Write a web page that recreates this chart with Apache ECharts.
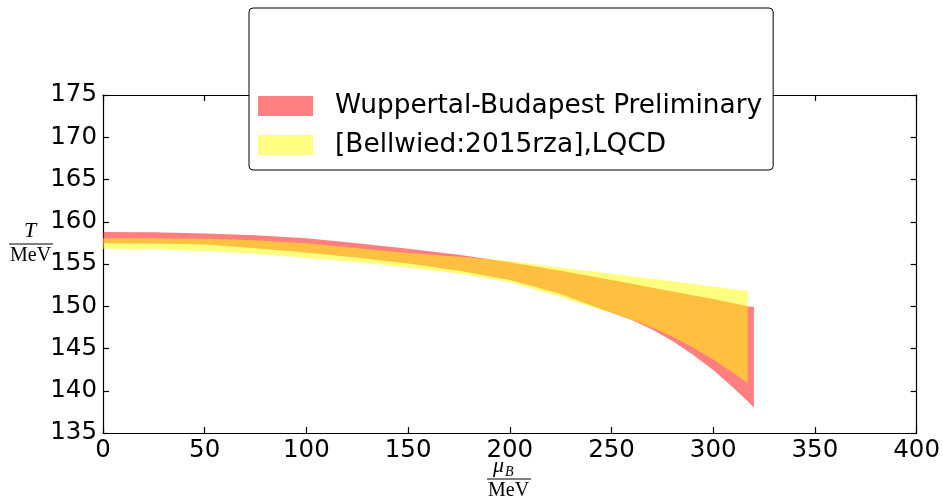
<!DOCTYPE html>
<html>
<head>
<meta charset="utf-8">
<title>Crossover line T(μB)</title>
<script src="https://cdn.jsdelivr.net/npm/echarts@6/dist/echarts.min.js"></script>
<style>
  html, body { margin: 0; padding: 0; background: #fff; }
  #chart { width: 943px; height: 499px; }
</style>
</head>
<body>
<div id="chart"></div>
<script>
// Band 1: Wuppertal-Budapest preliminary (μB in MeV, T in MeV)
const muWB   = [0, 25, 50, 75, 100, 125, 150, 175, 200, 225, 240, 250, 260, 270, 280, 290, 300, 310, 317, 320];
const wbLow  = [157.45, 157.42, 157.3, 156.85, 156.35, 155.75, 155.05, 154.2, 153.1, 151.45, 150.1, 149.24, 148.36, 147.25, 145.89, 144.27, 142.45, 140.33, 138.75, 138.0];
const wbHigh = [158.8, 158.75, 158.6, 158.4, 158.05, 157.45, 156.8, 156.1, 155.2, 154.2, 153.55, 153.1, 152.65, 152.2, 151.75, 151.3, 150.85, 150.35, 150.0, 149.9];

// Band 2: [Bellwied:2015rza], LQCD
const muBW   = [0, 25, 50, 75, 100, 125, 150, 175, 200, 225, 240, 250, 260, 270, 280, 290, 300, 310, 317];
const bwLow  = [156.8, 156.75, 156.55, 156.2, 155.7, 155.2, 154.6, 153.85, 152.85, 151.1, 149.95, 149.2, 148.42, 147.49, 146.39, 145.13, 143.7, 142.1, 140.9];
const bwHigh = [158.05, 158.05, 158.0, 157.8, 157.45, 156.85, 156.3, 155.85, 155.35, 154.6, 154.15, 153.85, 153.55, 153.25, 152.95, 152.65, 152.35, 152.0, 151.8];

// Axis ticks
const xTicks = [0, 50, 100, 150, 200, 250, 300, 350, 400];
const yTicks = [135, 140, 145, 150, 155, 160, 165, 170, 175];

const seriesNames = ['Wuppertal-Budapest Preliminary', '[Bellwied:2015rza],LQCD'];

// A filled band: upper edge left to right, lower edge back right to left.
function bandRenderer(mu, low, high, fill) {
  return function (params, api) {
    const pts = [];
    for (let i = 0; i < mu.length; i++) pts.push(api.coord([mu[i], high[i]]));
    for (let i = mu.length - 1; i >= 0; i--) pts.push(api.coord([mu[i], low[i]]));
    return {
      type: 'polygon',
      shape: { points: pts },
      style: { fill: fill, stroke: null }
    };
  };
}

const axisCommon = {
  type: 'value',
  axisLine: { show: true, onZero: false, lineStyle: { color: '#000', width: 1.2 } },
  axisTick: { show: true, inside: true, length: 6, lineStyle: { color: '#000', width: 1.2 } },
  splitLine: { show: false }
};
const labelFont = { color: '#000', fontSize: 24.5, fontFamily: 'DejaVu Sans' };

const chart = echarts.init(document.getElementById('chart'), null, { renderer: 'canvas' });
chart.setOption({
  animation: false,
  backgroundColor: '#fff',
  grid: { left: 103, right: 23, top: 95, bottom: 66 },
  xAxis: [
    Object.assign({}, axisCommon, {
      position: 'bottom', min: xTicks[0], max: xTicks[xTicks.length - 1], interval: 50,
      axisLabel: Object.assign({ margin: 5 }, labelFont)
    }),
    Object.assign({}, axisCommon, {
      position: 'top', min: xTicks[0], max: xTicks[xTicks.length - 1], interval: 50,
      axisLabel: { show: false }
    })
  ],
  yAxis: [
    Object.assign({}, axisCommon, {
      position: 'left', min: yTicks[0], max: yTicks[yTicks.length - 1], interval: 5,
      axisLabel: Object.assign({ margin: 6 }, labelFont)
    }),
    Object.assign({}, axisCommon, {
      position: 'right', min: yTicks[0], max: yTicks[yTicks.length - 1], interval: 5,
      axisLabel: { show: false }
    })
  ],
  legend: {
    left: 249, top: 8,
    orient: 'vertical',
    padding: [83, 11, 10, 9],
    itemGap: 9,
    itemWidth: 55, itemHeight: 20,
    icon: 'rect',
    backgroundColor: '#fff',
    borderColor: '#000', borderWidth: 1, borderRadius: 4,
    textStyle: { color: '#000', fontSize: 26.4, fontFamily: 'DejaVu Sans', lineHeight: 30, padding: [0, 0, 0, 17] },
    data: [
      { name: seriesNames[0], itemStyle: { color: '#ff8080' } },
      { name: seriesNames[1], itemStyle: { color: '#ffff80' } }
    ]
  },
  series: [
    {
      name: seriesNames[0], type: 'custom', xAxisIndex: 0, yAxisIndex: 0,
      itemStyle: { color: 'rgba(255,0,0,0.5)' },
      renderItem: bandRenderer(muWB, wbLow, wbHigh, 'rgba(255,0,0,0.5)'),
      data: [0], z: 2
    },
    {
      name: seriesNames[1], type: 'custom', xAxisIndex: 0, yAxisIndex: 0,
      itemStyle: { color: 'rgba(255,255,0,0.5)' },
      renderItem: bandRenderer(muBW, bwLow, bwHigh, 'rgba(255,255,0,0.5)'),
      data: [0], z: 3
    }
  ],
  graphic: [
    // y-axis label: T / MeV
    { type: 'text', left: 24, top: 220, style: { text: 'T', fontSize: 22, fontStyle: 'italic', fontFamily: 'Liberation Serif', fill: '#000' } },
    { type: 'line', shape: { x1: 9, y1: 244, x2: 53, y2: 244 }, style: { stroke: '#000', lineWidth: 1 } },
    { type: 'text', left: 10, top: 246, style: { text: 'MeV', fontSize: 20, fontFamily: 'Liberation Serif', fill: '#000' } },
    // x-axis label: μB / MeV
    { type: 'text', left: 493, top: 455, style: { text: 'μ', fontSize: 22, fontStyle: 'italic', fontFamily: 'Liberation Serif', fill: '#000' } },
    { type: 'text', left: 505, top: 465, style: { text: 'B', fontSize: 14, fontStyle: 'italic', fontFamily: 'Liberation Serif', fill: '#000' } },
    { type: 'line', shape: { x1: 487, y1: 479, x2: 531, y2: 479 }, style: { stroke: '#000', lineWidth: 1 } },
    { type: 'text', left: 488, top: 481, style: { text: 'MeV', fontSize: 20, fontFamily: 'Liberation Serif', fill: '#000' } }
  ]
});
</script>
</body>
</html>
